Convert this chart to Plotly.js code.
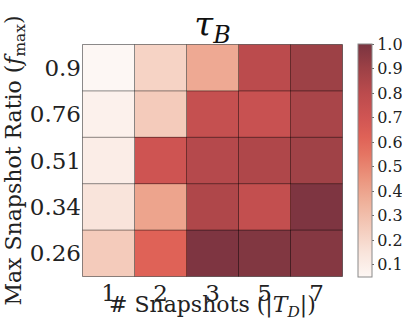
<!DOCTYPE html>
<html>
<head>
<meta charset="utf-8">
<script src="https://cdn.plot.ly/plotly-3.0.1.min.js"></script>
<style>
  html, body { margin: 0; padding: 0; background: #fff; }
  #chart { width: 402px; height: 322px; }
</style>
</head>
<body>
<div id="chart"></div>
<script>
// Number of snapshots |T_D| (columns)
const snapshots = ['1', '2', '3', '5', '7'];
// Max snapshot ratio f_max (rows, bottom to top)
const ratios = ['0.26', '0.34', '0.51', '0.76', '0.9'];

// tau_B per ratio row (same order as ratios), one value per snapshot count
const row026 = [0.25, 0.62, 0.99, 0.98, 0.97];
const row034 = [0.15, 0.40, 0.84, 0.76, 0.99];
const row051 = [0.10, 0.71, 0.82, 0.84, 0.89];
const row076 = [0.08, 0.25, 0.75, 0.74, 0.86];
const row090 = [0.05, 0.22, 0.38, 0.80, 0.90];

const colorTicks = [0.1, 0.2, 0.3, 0.4, 0.5, 0.6, 0.7, 0.8, 0.9, 1.0];

const z = [row026, row034, row051, row076, row090];
const zmin = Math.min(...z.flat());
const zmax = 1.0;

// Faded red palette (light to dark)
const palette = [
  [0.00, '#fdf7f4'], [0.105, '#f9e4db'], [0.211, '#f4cbbb'], [0.316, '#efb29c'],
  [0.421, '#eb957e'], [0.526, '#e57563'], [0.60, '#df6257'], [0.684, '#d05553'],
  [0.789, '#bb4b4d'], [0.895, '#9d4146'], [1.00, '#7a3440']
];

const font = 'DejaVu Serif';

// Cell edge lines, placed on the category boundaries
const shapes = [];
for (let i = 0; i <= snapshots.length; i++) {
  shapes.push({type: 'line', xref: 'x', yref: 'y', x0: i - 0.5, x1: i - 0.5,
    y0: -0.5, y1: ratios.length - 0.5, line: {color: 'rgba(0,0,0,0.45)', width: 1}});
}
for (let j = 0; j <= ratios.length; j++) {
  shapes.push({type: 'line', xref: 'x', yref: 'y', y0: j - 0.5, y1: j - 0.5,
    x0: -0.5, x1: snapshots.length - 0.5, line: {color: 'rgba(0,0,0,0.45)', width: 1}});
}

const trace = {
  type: 'heatmap',
  x: snapshots,
  y: ratios,
  z: z,
  zmin: zmin,
  zmax: zmax,
  colorscale: palette,
  showscale: true,
  hoverinfo: 'x+y+z',
  colorbar: {
    x: 1.057, xanchor: 'left', xpad: 0,
    y: 0.5, yanchor: 'middle', ypad: 0,
    len: 1, lenmode: 'fraction',
    thickness: 14,
    outlinecolor: '#8a8a8a', outlinewidth: 1,
    ticks: 'outside', ticklen: 2, tickcolor: '#666',
    tickvals: colorTicks, tickformat: '.1f',
    tickfont: {family: font, size: 16, color: '#222'}
  }
};

const layout = {
  width: 402, height: 322,
  margin: {l: 82, r: 59, t: 44, b: 45, autoexpand: false},
  paper_bgcolor: '#fff',
  plot_bgcolor: '#fff',
  font: {family: font, color: '#222'},
  title: {
    text: '<i>τ</i><sub><i>B</i></sub>',
    font: {family: font, size: 34, color: '#111'},
    x: 0.5, xref: 'paper', xanchor: 'center',
    y: 0.925, yref: 'container', yanchor: 'middle'
  },
  xaxis: {
    type: 'category',
    categoryarray: snapshots,
    showgrid: false, zeroline: false, showline: false,
    ticks: '', ticklen: 0,
    tickfont: {family: font, size: 23, color: '#222'}
  },
  yaxis: {
    type: 'category',
    categoryarray: ratios,
    automargin: true,
    showgrid: false, zeroline: false, showline: false,
    ticks: '', ticklen: 0,
    tickfont: {family: font, size: 23, color: '#222'},
    title: {text: 'Max Snapshot Ratio (<i>f</i><sub>max</sub>)',
      font: {family: font, size: 22, color: '#222'}, standoff: 2}
  },
  // x-axis caption, set just under the tick labels
  annotations: [{
    text: '# Snapshots (|<i>T</i><sub><i>D</i></sub>|)',
    xref: 'paper', yref: 'paper', x: 0.5, y: -0.128,
    xanchor: 'center', yanchor: 'middle', showarrow: false,
    font: {family: font, size: 22, color: '#222'}
  }],
  shapes: shapes
};

Plotly.newPlot('chart', [trace], layout, {displayModeBar: false, staticPlot: true});
</script>
</body>
</html>
